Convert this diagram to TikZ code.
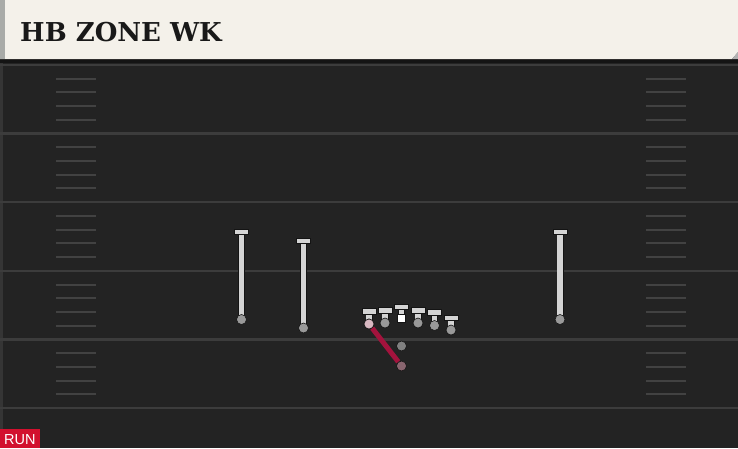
\documentclass[tikz,border=0pt]{standalone}
\usepackage{fontspec}
\newfontfamily\titlefont{DejaVu Serif}
\newfontfamily\tagfont{Liberation Sans}
\usetikzlibrary{backgrounds}
\definecolor{fieldc}{HTML}{232323}
\definecolor{linec}{HTML}{3C3C3C}
\definecolor{hashc}{HTML}{424242}
\definecolor{headc}{HTML}{F4F1EA}
\definecolor{stripec}{HTML}{A9ABA8}
\definecolor{shadowc}{HTML}{141414}
\definecolor{runc}{HTML}{D2102E}
\definecolor{routec}{HTML}{A3133D}
\definecolor{lightc}{HTML}{D4D4D4}
\definecolor{outc}{HTML}{141414}
\definecolor{dotc}{HTML}{999999}
\definecolor{bdotc}{HTML}{808080}
\tikzset{
  yardline/.style={linec, line width=2.4pt},
  hashmark/.style={hashc, line width=2pt},
  stemout/.style={outc, line width=7pt},
  stemin/.style={lightc, line width=5.2pt},
  barbox/.style={fill=lightc, draw=outc, line width=0.9pt},
  dotn/.style={circle, fill=dotc, draw=outc, line width=0.6pt, inner sep=0pt, minimum size=10pt},
  ballc/.style={circle, fill=bdotc, draw=outc, line width=0.6pt, inner sep=0pt, minimum size=10pt},
  ctrsq/.style={rectangle, fill=white, draw=outc, line width=0.6pt, inner sep=0pt, minimum size=8.5pt},
  route/.style={routec, line width=5pt},
}
\newcommand\plyr[4]{%
  \draw[stemout] (#2,#3) -- (#2,#4);
  \draw[stemin] (#2,#3) -- (#2,#4);
  \draw[barbox] (#2-7,#3) rectangle (#2+7,#3+5.5);
  \node[dotn] (#1) at (#2,#4) {};
}
\begin{document}
\begin{tikzpicture}[x=1pt,y=-1pt]
\useasboundingbox (0,0) rectangle (738,448);
\begin{scope}[on background layer]
\fill[fieldc] (0,0) rectangle (738,448);
\fill[linec!70!fieldc] (0,60) rectangle (2.5,448);
% yard lines
\foreach \yy in {65,133.6,202.2,270.8,339.4,408} {
  \draw[yardline] (0,\yy) -- (738,\yy);
}
% hash marks
\foreach \yy in {65,133.6,202.2,270.8,339.4} {
  \foreach \k in {1,2,3,4} {
    \draw[hashmark] (56,\yy+13.72*\k) -- (96,\yy+13.72*\k);
    \draw[hashmark] (646,\yy+13.72*\k) -- (686,\yy+13.72*\k);
  }
}
\end{scope}
% header
\fill[shadowc] (0,57) rectangle (738,63);
\fill[headc] (0,0) -- (738,0) -- (738,52) -- (732,59) -- (0,59) -- cycle;
\fill[stripec] (0,0) rectangle (5,59);
\fill[gray!60] (732,59) -- (738,52) -- (738,59) -- cycle;
\node[anchor=base west, inner sep=0pt, text=black!90, font=\titlefont\bfseries\fontsize{26}{26}\selectfont] (title) at (20,41) {HB ZONE WK};
% receivers
\plyr{wra}{241.5}{229}{319.5}
\plyr{wrb}{303.5}{238}{328}
\plyr{wrc}{560}{229}{319.5}
% line
\plyr{lt}{369}{308.5}{324}
\plyr{lg}{385}{307.5}{323}
\draw[stemout] (401.5,304) -- (401.5,315);
\draw[stemin] (401.5,304) -- (401.5,315);
\draw[barbox] (394.5,304) rectangle (408.5,309.5);
\node[ctrsq] (ctr) at (401.5,318.5) {};
\plyr{rg}{418}{307.5}{323}
\plyr{rt}{434.5}{309.5}{325.5}
\plyr{te}{451}{315}{330}
% backs
\node[ballc] (qb) at (401.5,346) {};
\node[ballc, fill=bdotc!75!routec] (rb) at (401.5,366) {};
\node[dotn, fill=dotc!45!routec!40!white] at (lt) {};
\draw[route] (rb) -- (lt);
% run tag
\fill[runc] (0,429) rectangle (40,448);
\node[anchor=base west, inner sep=0pt, text=white, font=\tagfont\fontsize{14.5}{14.5}\selectfont] (tag) at (4,444.5) {RUN};
\end{tikzpicture}
\end{document}
